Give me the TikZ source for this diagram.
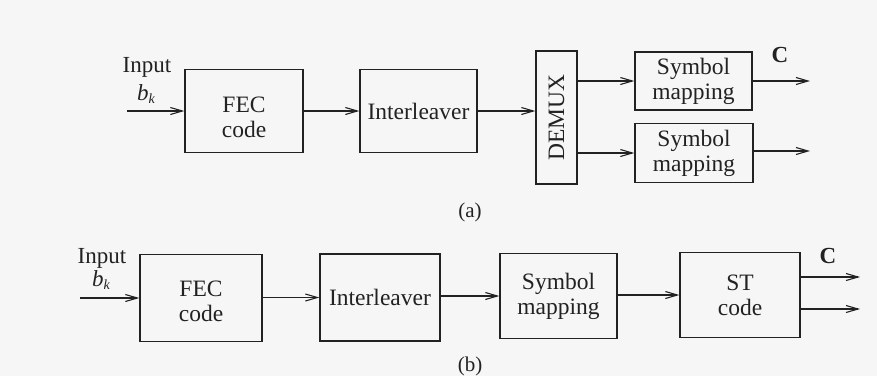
\documentclass[tikz,border=0pt]{standalone}
\usepackage{fontspec}
\setmainfont{Liberation Serif}
\usetikzlibrary{arrows.meta}
\definecolor{ink}{HTML}{222222}
\definecolor{paper}{HTML}{F6F6F6}
\begin{document}
\begin{tikzpicture}[x=1pt,y=-1pt,
  every node/.style={text=ink},
  txt/.style={font=\fontsize{23.5}{25}\selectfont, align=center, inner sep=0pt},
  blk/.style={draw=ink, line width=1.3pt, txt},
  conn/.style={draw=ink, line width=1.1pt, -{Straight Barb[length=12pt,width=7pt,line width=1.1pt]}},
  lbl/.style={font=\fontsize{23}{25}\selectfont, inner sep=0pt, anchor=base},
  figlabel/.style={font=\fontsize{21}{24}\selectfont, inner sep=0pt}
]
\fill[paper] (0,0) rectangle (877,376);
\useasboundingbox (0,0) rectangle (877,376);

% ---------- (a) ----------
\node[blk, minimum width=118pt, minimum height=83pt] (fa) at (244,111) {};
\node[txt] (fat) at ([yshift=-6pt]fa.center) {FEC\\code};
\node[blk, minimum width=117pt, minimum height=83pt] (ia) at (418.5,111) {Interleaver};
\node[blk, minimum width=41pt, minimum height=133pt] (dm) at (556.5,117.5) {};
\node[txt, rotate=90] (dmt) at (dm.center) {DEMUX};
\node[blk, minimum width=117pt, minimum height=58pt] (s1) at (693.5,81) {Symbol\\mapping};
\node[blk, minimum width=118pt, minimum height=59pt] (s2) at (694,153) {Symbol\\mapping};

\node[lbl] (ina) at (147,72) {Input};
\node[lbl] (bka) at (146,100) {\textit{b}\raisebox{-0.35ex}{\fontsize{14}{16}\selectfont\textit{k}}};
\coordinate (ia0) at (127,111);
\coordinate (oa1) at (810,81);
\coordinate (oa2) at (810,151);
\node[font=\bfseries\fontsize{23}{26}\selectfont, inner sep=0pt] (ca) at (780,55) {C};

\draw[conn] (ia0) -- (fa.west);
\draw[conn] (fa.east) -- (ia.west);
\draw[conn] (ia.east) -- (ia.east -| dm.west);
\draw[conn] (s1.west -| dm.east) -- (s1.west);
\draw[conn] (s2.west -| dm.east) -- (s2.west);
\draw[conn] (s1.east) -- (oa1);
\draw[conn] (s2.east |- oa2) -- (oa2);

\node[figlabel] (la) at (470,212) {(a)};

% ---------- (b) ----------
\node[blk, minimum width=122pt, minimum height=87pt] (fb) at (201,298) {};
\node[txt] (fbt) at ([yshift=-3pt]fb.center) {FEC\\code};
\node[blk, minimum width=120pt, minimum height=87pt] (ib) at (380,297.5) {Interleaver};
\node[blk, minimum width=117pt, minimum height=85pt] (sb) at (558.5,296) {Symbol\\mapping};
\node[blk, minimum width=120pt, minimum height=85pt] (st) at (740,295) {ST\\code};

\node[lbl] (inb) at (102,263) {Input};
\node[lbl] (bkb) at (101,286) {\textit{b}\raisebox{-0.35ex}{\fontsize{14}{16}\selectfont\textit{k}}};
\coordinate (ib0) at (80,298);
\coordinate (ob1) at (860,277);
\coordinate (ob2) at (860,309);
\node[font=\bfseries\fontsize{23}{26}\selectfont, inner sep=0pt] (cb) at (828,256) {C};

\draw[conn] (ib0) -- (fb.west |- ib0);
\draw[conn] (fb.east |- ib.west) -- (ib.west);
\draw[conn] (ib.east |- sb.west) -- (sb.west);
\draw[conn] (sb.east |- st.west) -- (st.west);
\draw[conn] (st.east |- ob1) -- (ob1);
\draw[conn] (st.east |- ob2) -- (ob2);

\node[figlabel] (lb) at (470,366) {(b)};
\end{tikzpicture}
\end{document}
